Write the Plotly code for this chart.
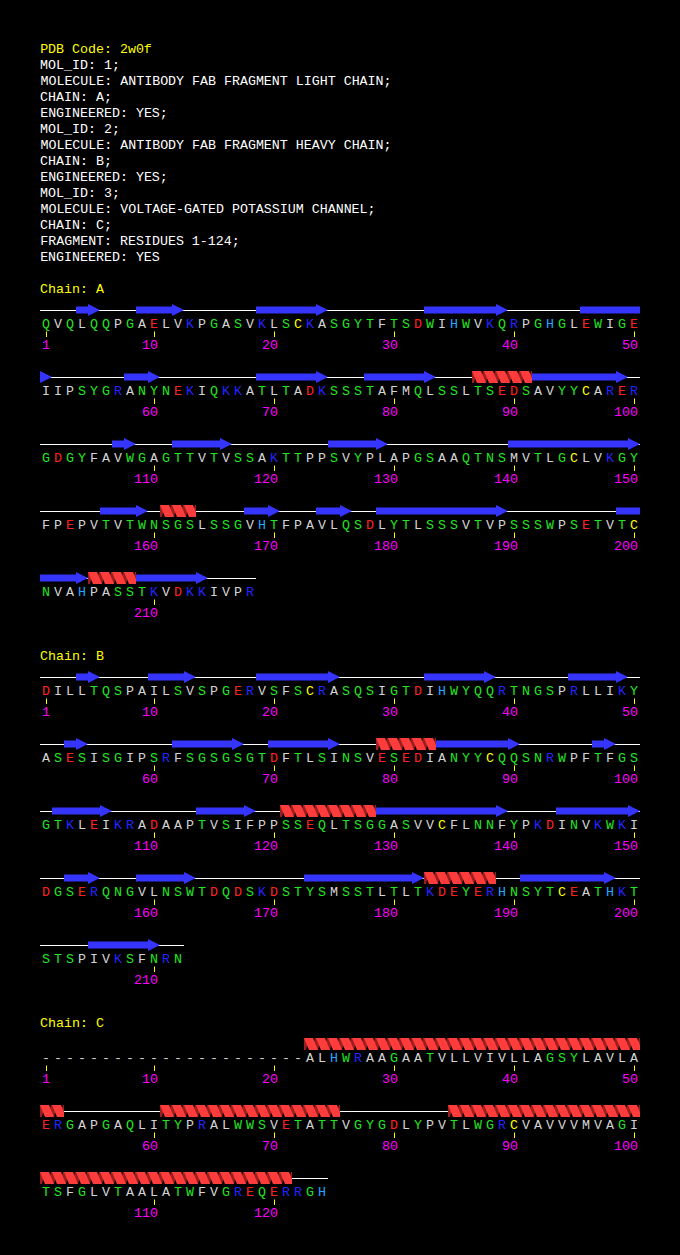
"""PDB 2w0f sequence / secondary-structure panel, redrawn with Plotly."""
import plotly.graph_objects as go

# ---------------------------------------------------------------------------
# Data
# ---------------------------------------------------------------------------
PDB_CODE = "2w0f"
HEADER = [
    "MOL_ID: 1;",
    "MOLECULE: ANTIBODY FAB FRAGMENT LIGHT CHAIN;",
    "CHAIN: A;",
    "ENGINEERED: YES;",
    "MOL_ID: 2;",
    "MOLECULE: ANTIBODY FAB FRAGMENT HEAVY CHAIN;",
    "CHAIN: B;",
    "ENGINEERED: YES;",
    "MOL_ID: 3;",
    "MOLECULE: VOLTAGE-GATED POTASSIUM CHANNEL;",
    "CHAIN: C;",
    "FRAGMENT: RESIDUES 1-124;",
    "ENGINEERED: YES",
]

CHAIN_IDS = ["A", "B", "C"]

SEQ_A = ("QVQLQQPGAELVKPGASVKLSCKASGYTFTSDWIHWVKQRPGHGLEWIGE"
         "IIPSYGRANYNEKIQKKATLTADKSSSTAFMQLSSLTSEDSAVYYCARER"
         "GDGYFAVWGAGTTVTVSSAKTTPPSVYPLAPGSAAQTNSMVTLGCLVKGY"
         "FPEPVTVTWNSGSLSSGVHTFPAVLQSDLYTLSSSVTVPSSSWPSETVTC"
         "NVAHPASSTKVDKKIVPR")
SEQ_B = ("DILLTQSPAILSVSPGERVSFSCRASQSIGTDIHWYQQRTNGSPRLLIKY"
         "ASESISGIPSRFSGSGSGTDFTLSINSVESEDIANYYCQQSNRWPFTFGS"
         "GTKLEIKRADAAPTVSIFPPSSEQLTSGGASVVCFLNNFYPKDINVKWKI"
         "DGSERQNGVLNSWTDQDSKDSTYSMSSTLTLTKDEYERHNSYTCEATHKT"
         "STSPIVKSFNRN")
# "-" = residue not present in the model
SEQ_C = ("----------------------ALHWRAAGAATVLLVIVLLAGSYLAVLA"
         "ERGAPGAQLITYPRALWWSVETATTVGYGDLYPVTLWGRCVAVVVMVAGI"
         "TSFGLVTAALATWFVGREQERRGH")

# secondary structure, (first residue, last residue)
STRANDS_A = [(4, 5), (9, 12), (19, 24), (33, 39), (46, 51), (58, 60), (69, 74),
             (78, 83), (92, 99), (107, 108), (112, 116), (125, 129), (140, 150),
             (156, 159), (168, 170), (174, 176), (179, 189), (199, 204), (209, 214)]
HELICES_A = [(87, 91), (161, 163), (205, 208)]

STRANDS_B = [(4, 5), (10, 13), (19, 25), (33, 38), (45, 49), (53, 54), (62, 67),
             (70, 75), (84, 90), (97, 98), (102, 106), (114, 118), (129, 139),
             (144, 150), (153, 155), (159, 163), (173, 182), (191, 198), (205, 210)]
HELICES_B = [(79, 83), (121, 128), (183, 188)]

STRANDS_C = []
HELICES_C = [(23, 52), (61, 75), (85, 121)]

# ---------------------------------------------------------------------------
# Style
# ---------------------------------------------------------------------------
_BG = "#000000"
_WHITE = "#ffffff"
_YELLOW = "#ffff00"
_MAGENTA = "#ff00ff"
_STRAND = "#3535ff"
_HELIX_LIGHT = "#ff3c3c"
_HELIX_DARK = "#9c1e1e"
_FONT = "Liberation Mono, DejaVu Sans Mono, monospace"

_RES_COLORS = {
    **dict.fromkeys("DE", "#ff2020"),
    **dict.fromkeys("KR", "#2424ff"),
    **dict.fromkeys("GSTYNQW", "#22e622"),
    "H": "#20a8ff",
    "C": "#ffff00",
}
_RES_DEFAULT = "#d4d4d4"

_X0, _CELL, _PER_ROW = 40, 12, 50
_HEAD_Y0, _HEAD_DY = 48, 16
_ROW_DY = 67
_TXT_DY = 1.5   # nudge so glyphs sit like the reference


def _row(pos):
    return (pos - 1) // _PER_ROW


def _left(pos):
    return _X0 + ((pos - 1) % _PER_ROW) * _CELL


def _centre(pos):
    return _left(pos) + _CELL / 2


def _row_runs(start, end):
    """Split a residue range into pieces that sit on one row each."""
    out, a = [], start
    while a <= end:
        b = min(end, (_row(a) + 1) * _PER_ROW)
        out.append((a, b))
        a = b + 1
    return out


def _clip(poly, xmin, xmax):
    def edge(pts, keep, xc):
        out = []
        for i, cur in enumerate(pts):
            prev = pts[i - 1]
            if keep(cur) != keep(prev):
                t = (xc - prev[0]) / (cur[0] - prev[0])
                out.append((xc, prev[1] + t * (cur[1] - prev[1])))
            if keep(cur):
                out.append(cur)
        return out
    pts = edge(poly, lambda p: p[0] >= xmin, xmin)
    if pts:
        pts = edge(pts, lambda p: p[0] <= xmax, xmax)
    return pts


def _add_poly(xs, ys, pts):
    if len(pts) < 3:
        return
    xs.extend([p[0] for p in pts] + [pts[0][0], None])
    ys.extend([p[1] for p in pts] + [pts[0][1], None])


# ---------------------------------------------------------------------------
# Build geometry
# ---------------------------------------------------------------------------
line_x, line_y = [], []
strand_x, strand_y = [], []
hl_x, hl_y, hd_x, hd_y = [], [], [], []
tick_x, tick_y = [], []
texts = {}


def _put(colour, x, y, label):
    t = texts.setdefault(colour, [[], [], []])
    t[0].append(x)
    t[1].append(y + _TXT_DY)
    t[2].append(label)


def _put_left(colour, y, label):
    _put(colour, _X0 + 4 * len(label), y, label)


_put_left(_YELLOW, _HEAD_Y0, f"PDB Code: {PDB_CODE}")
for k, s in enumerate(HEADER, 1):
    _put_left(_WHITE, _HEAD_Y0 + k * _HEAD_DY, s)

chains = [(SEQ_A, STRANDS_A, HELICES_A), (SEQ_B, STRANDS_B, HELICES_B),
          (SEQ_C, STRANDS_C, HELICES_C)]

y_title = _HEAD_Y0 + len(HEADER) * _HEAD_DY + 32
for cid, (seq, strands, helices) in zip(CHAIN_IDS, chains):
    _put_left(_YELLOW, y_title, f"Chain: {cid}")
    base = y_title + 22
    n = len(seq)

    def ly(pos):
        return base + _row(pos) * _ROW_DY

    # residues, ticks, numbers
    for pos, aa in enumerate(seq, 1):
        _put(_RES_COLORS.get(aa, _RES_DEFAULT), _centre(pos), ly(pos) + 13, aa)
        if pos == 1 or pos % 10 == 0:
            tick_x.extend([_centre(pos) + 0.5, _centre(pos) + 0.5, None])
            tick_y.extend([ly(pos) + 21.5, ly(pos) + 27, None])
            lab = str(pos)
            _put(_MAGENTA, _centre(pos) + 4 - 4 * len(lab), ly(pos) + 34.5, lab)

    # backbone line under modelled residues
    pos = 1
    while pos <= n:
        if seq[pos - 1] == "-":
            pos += 1
            continue
        a = pos
        while pos <= n and seq[pos - 1] != "-" and _row(pos) == _row(a):
            pos += 1
        line_x.extend([_left(a), _left(pos - 1) + _CELL, None])
        line_y.extend([ly(a) + 0.5, ly(a) + 0.5, None])

    # strands -> arrows
    for s, e in strands:
        for a, b in _row_runs(s, e):
            L, xl, xr = ly(a), _left(a), _left(b) + _CELL
            if b == e:
                xh = xr - _CELL
                pts = [(xl, L - 3.5), (xh, L - 3.5), (xh, L - 6), (xr, L),
                       (xh, L + 6), (xh, L + 3.5), (xl, L + 3.5)]
            else:
                pts = [(xl, L - 3.5), (xr, L - 3.5), (xr, L + 3.5), (xl, L + 3.5)]
            _add_poly(strand_x, strand_y, pts)

    # helices -> striped ribbon
    for s, e in helices:
        for a, b in _row_runs(s, e):
            L, xs, xe = ly(a), _left(a), _left(b) + _CELL
            top, bot = L - 6, L + 6
            for k in range(-1, b - a + 1):
                x0 = xs + k * _CELL
                _add_poly(hd_x, hd_y, _clip([(x0 + 8, bot), (x0 + 14, bot),
                                             (x0 + 17, top), (x0 + 11, top)], xs, xe))
                if k >= 0:
                    _add_poly(hl_x, hl_y, _clip([(x0, top), (x0 + 9, top),
                                                 (x0 + 14, bot), (x0 + 5, bot)], xs, xe))

    y_title = base + _row(n) * _ROW_DY + 77

# ---------------------------------------------------------------------------
# Figure
# ---------------------------------------------------------------------------
fig = go.Figure()
fig.add_trace(go.Scatter(x=line_x, y=line_y, mode="lines",
                         line=dict(color=_WHITE, width=1), hoverinfo="skip"))
for xs, ys, col in [(strand_x, strand_y, _STRAND), (hd_x, hd_y, _HELIX_DARK),
                    (hl_x, hl_y, _HELIX_LIGHT)]:
    fig.add_trace(go.Scatter(x=xs, y=ys, mode="lines", fill="toself",
                             fillcolor=col, line=dict(color=col, width=0),
                             hoverinfo="skip"))
fig.add_trace(go.Scatter(x=tick_x, y=tick_y, mode="lines",
                         line=dict(color=_YELLOW, width=1), hoverinfo="skip"))
for col, (xs, ys, labels) in texts.items():
    fig.add_trace(go.Scatter(x=xs, y=ys, text=labels, mode="text",
                             textposition="middle center",
                             textfont=dict(family=_FONT, size=13.3, color=col),
                             hoverinfo="skip"))

fig.update_layout(
    width=680, height=1255,
    margin=dict(l=0, r=0, t=0, b=0),
    paper_bgcolor=_BG, plot_bgcolor=_BG,
    showlegend=False,
    xaxis=dict(range=[0, 680], visible=False, fixedrange=True),
    yaxis=dict(range=[1255, 0], visible=False, fixedrange=True),
)

fig.write_html(
    "out.html",
    config={"displayModeBar": False},
    post_script="document.body.style.margin='0';document.body.style.background='#000';",
)
